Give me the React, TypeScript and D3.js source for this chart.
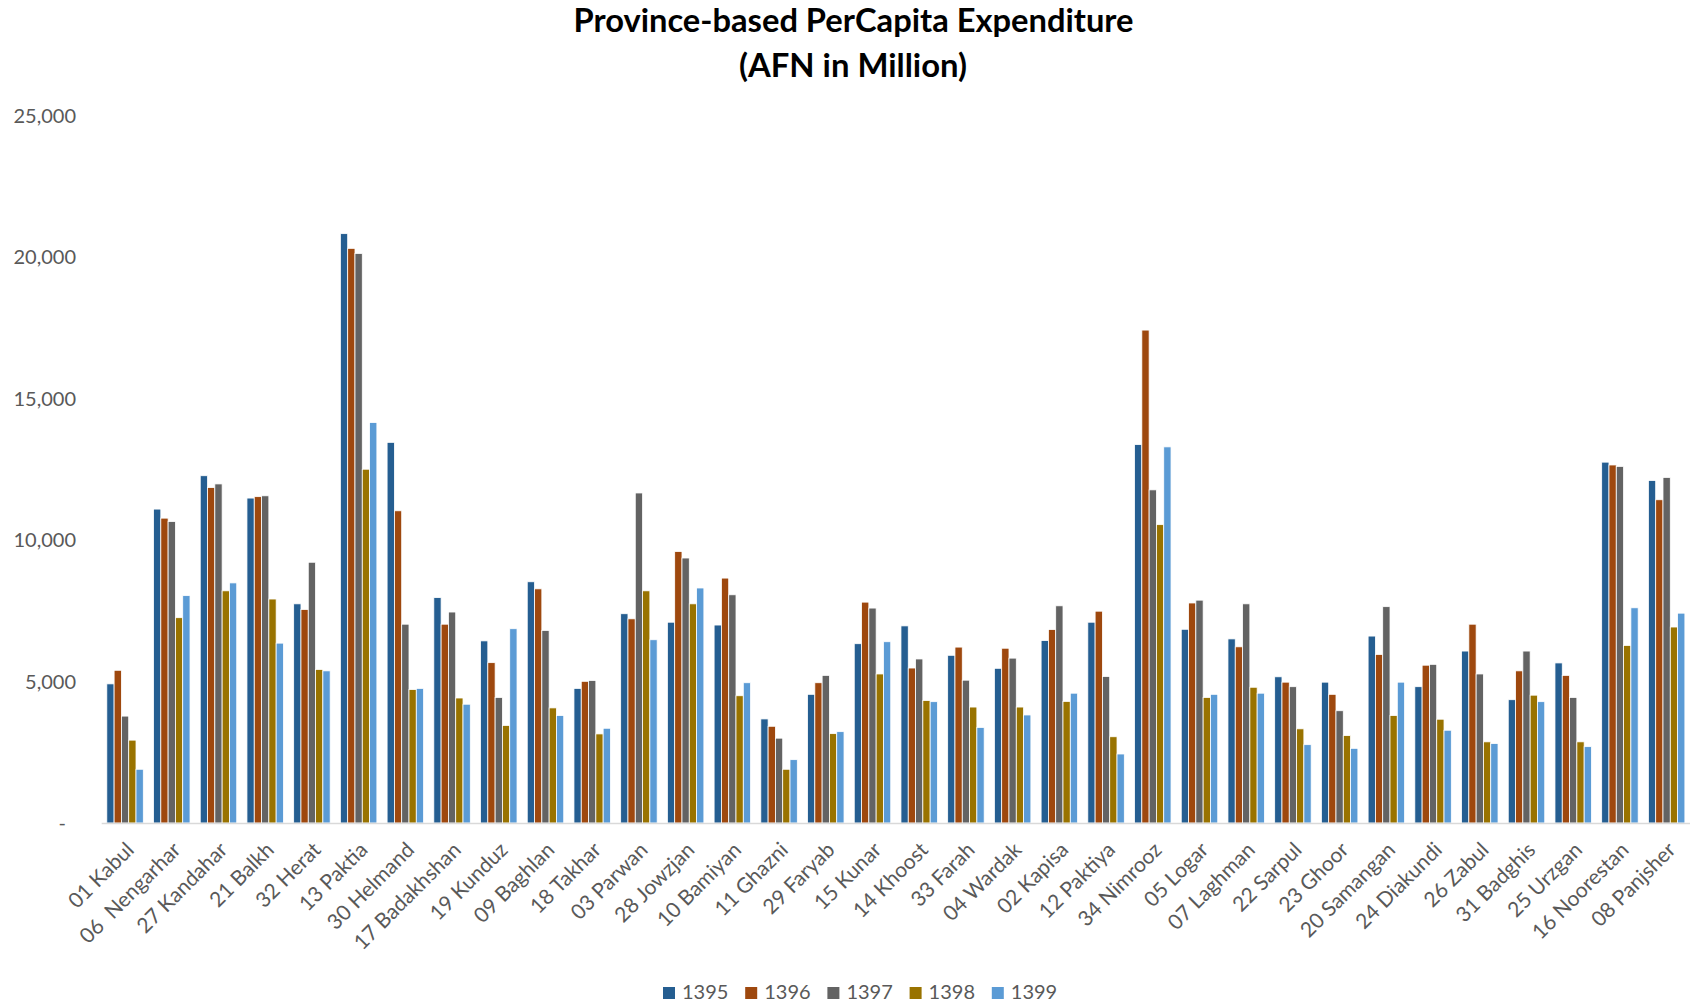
import React from "react";
import * as d3 from "d3";

const categories = [
  "01 Kabul", "06  Nengarhar", "27 Kandahar", "21 Balkh", "32 Herat", "13 Paktia",
  "30 Helmand", "17 Badakhshan", "19 Kunduz", "09 Baghlan", "18 Takhar", "03 Parwan",
  "28 Jowzjan", "10 Bamiyan", "11 Ghazni", "29 Faryab", "15 Kunar", "14 Khoost",
  "33 Farah", "04 Wardak", "02 Kapisa", "12 Paktiya", "34 Nimrooz", "05 Logar",
  "07 Laghman", "22 Sarpul", "23 Ghoor", "20 Samangan", "24 Diakundi", "26 Zabul",
  "31 Badghis", "25 Urzgan", "16 Noorestan", "08 Panjsher",
];

const seriesNames = ["1395", "1396", "1397", "1398", "1399"];
const seriesColors = ["#255E91", "#9E480E", "#636363", "#997300", "#5B9BD5"];

const v1395 = [4920, 11100, 12280, 11490, 7750, 20840, 13460, 7970, 6440, 8530, 4760, 7400, 7100, 7000, 3680, 4550, 6340, 6970, 5930, 5470, 6450, 7100, 13380, 6850, 6510, 5170, 4980, 6610, 4820, 6080, 4360, 5660, 12760, 12110];
const v1396 = [5400, 10780, 11860, 11540, 7550, 20320, 11040, 7030, 5670, 8280, 5010, 7220, 9600, 8660, 3420, 4960, 7810, 5480, 6220, 6180, 6840, 7490, 17430, 7780, 6230, 4980, 4550, 5960, 5580, 7030, 5380, 5220, 12660, 11430];
const v1397 = [3780, 10660, 11990, 11570, 9220, 20140, 7030, 7460, 4440, 6810, 5040, 11670, 9370, 8070, 3000, 5220, 7600, 5800, 5050, 5830, 7680, 5180, 11780, 7880, 7750, 4820, 3970, 7650, 5610, 5270, 6080, 4440, 12610, 12220];
const v1398 = [2930, 7260, 8210, 7920, 5430, 12510, 4720, 4420, 3450, 4070, 3150, 8210, 7750, 4500, 1900, 3160, 5270, 4330, 4100, 4100, 4300, 3050, 10550, 4440, 4800, 3330, 3090, 3800, 3670, 2870, 4520, 2870, 6280, 6930];
const v1399 = [1900, 8040, 8490, 6360, 5380, 14160, 4760, 4200, 6870, 3800, 3350, 6480, 8310, 4960, 2240, 3230, 6410, 4290, 3380, 3820, 4590, 2440, 13300, 4550, 4590, 2770, 2640, 4980, 3280, 2810, 4290, 2700, 7610, 7420];

const yTicks = [0, 5000, 10000, 15000, 20000, 25000];

const titleLines = ["Province-based PerCapita Expenditure", "(AFN in Million)"];

const W = 1694;
const H = 1006;
const FONT = "Lato, 'Open Sans', sans-serif";

export default function App() {
  const series = [v1395, v1396, v1397, v1398, v1399];
  const x0 = d3.scaleBand<string>().domain(categories).range([101.7, 1690]).padding(0);
  const x1 = d3
    .scaleBand<string>()
    .domain(seriesNames)
    .range([0, x0.bandwidth()])
    .paddingInner(0)
    .paddingOuter(0.7);
  const y = d3.scaleLinear().domain([0, 25000]).range([823, 116]);
  const fmt = d3.format(",");

  return (
    <svg
      width={W}
      height={H}
      style={{ position: "absolute", left: 0, top: 0, background: "#fff" }}
      fontFamily={FONT}
    >
      <rect x={0} y={0} width={W} height={H} fill="#fff" />
      {/* title */}
      <g fontWeight="bold" fontSize={31.5} fill="#000" textAnchor="middle">
        <text x={853.5} y={31.5} textLength={560} lengthAdjust="spacingAndGlyphs">{titleLines[0]}</text>
        <text x={853} y={76.5} textLength={228} lengthAdjust="spacingAndGlyphs">{titleLines[1]}</text>
      </g>
      {/* y ticks */}
      <g fontSize={20} fill="#595959" textAnchor="end">
        {yTicks.map((t) => (
          <text key={t} x={t === 0 ? 66 : 76} y={y(t)} dy="0.35em">
            {t === 0 ? "-" : fmt(t)}
          </text>
        ))}
      </g>
      {/* bars */}
      {categories.map((c, i) => (
        <g key={c} transform={`translate(${x0(c)},0)`}>
          {seriesNames.map((s, j) => (
            <rect
              key={s}
              x={x1(s)}
              y={y(series[j][i])}
              width={x1.bandwidth()}
              height={y(0) - y(series[j][i])}
              fill={seriesColors[j]}
              stroke="#ffffff"
              strokeWidth={0.8}
            />
          ))}
        </g>
      ))}
      {/* axis line */}
      <line x1={101.7} x2={1690} y1={y(0) + 0.5} y2={y(0) + 0.5} stroke="#D9D9D9" strokeWidth={1.5} />
      {/* x labels */}
      <g fontSize={21} fill="#595959" textAnchor="end">
        {categories.map((c) => {
          const cx = (x0(c) as number) + x0.bandwidth() / 2;
          return (
            <text
              key={c}
              transform={`translate(${cx + 5},${846}) rotate(-45)`}
              dy="0.35em"
              style={{ whiteSpace: "pre" }}
            >
              {c}
            </text>
          );
        })}
      </g>
      {/* legend */}
      <g fontSize={20} fill="#595959">
        {seriesNames.map((s, j) => (
          <g key={s} transform={`translate(${663 + j * 82.2},0)`}>
            <rect x={0} y={987} width={12} height={12} fill={seriesColors[j]} />
            <text x={19} y={999}>{s}</text>
          </g>
        ))}
      </g>
    </svg>
  );
}
